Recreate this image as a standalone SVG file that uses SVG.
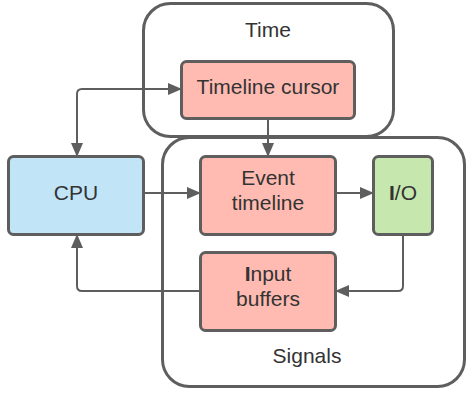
<svg xmlns="http://www.w3.org/2000/svg" width="466" height="394" viewBox="0 0 466 394">
  <style>
    .box { stroke: #5e5e5e; stroke-width: 3; }
    .frame { fill: none; stroke: #5e5e5e; stroke-width: 3; }
    .red { fill: #ffbbb1; }
    .blue { fill: #c1e4f7; }
    .green { fill: #c6e7ae; }
    .label { font-family: "Liberation Sans", Arial, sans-serif; font-size: 21px; fill: #333333; text-anchor: middle; }
    .wire { fill: none; stroke: #5e5e5e; stroke-width: 2; }
  </style>
  <defs>
    <marker id="arrow" viewBox="0 0 14 12" refX="13" refY="6" markerWidth="14" markerHeight="12" markerUnits="userSpaceOnUse" orient="auto-start-reverse">
      <path d="M0,0 L14,6 L0,12 Z" fill="#5e5e5e"/>
    </marker>
  </defs>

  <!-- container frames -->
  <g id="time">
    <rect class="frame" x="143.5" y="3.5" width="250" height="133" rx="27"/>
    <text class="label" x="268" y="37">Time</text>
  </g>
  <g id="signals">
    <rect class="frame" x="162.5" y="137.5" width="302" height="249" rx="27"/>
    <text class="label" x="307" y="363">Signals</text>
  </g>

  <!-- connectors -->
  <g id="connectors">
    <path class="wire" d="M77,156 V94 Q77,89 82,89 H181" marker-start="url(#arrow)" marker-end="url(#arrow)"/>
    <path class="wire" d="M268,118 V156" marker-end="url(#arrow)"/>
    <path class="wire" d="M143,193 H200" marker-end="url(#arrow)"/>
    <path class="wire" d="M335,193 H373" marker-end="url(#arrow)"/>
    <path class="wire" d="M403,234 V286 Q403,291 398,291 H336" marker-end="url(#arrow)"/>
    <path class="wire" d="M200,291 H82 Q77,291 77,286 V235" marker-end="url(#arrow)"/>
  </g>

  <!-- nodes -->
  <g id="timeline-cursor">
    <rect class="box red" x="181.5" y="61.5" width="173" height="57" rx="5"/>
    <text class="label" x="268" y="94">Timeline cursor</text>
  </g>
  <g id="cpu">
    <rect class="box blue" x="8.5" y="156.5" width="135" height="78" rx="5"/>
    <text class="label" x="76" y="200">CPU</text>
  </g>
  <g id="event-timeline">
    <rect class="box red" x="200.5" y="156.5" width="135" height="78" rx="5"/>
    <text class="label" x="268" y="185">Event</text>
    <text class="label" x="268" y="210">timeline</text>
  </g>
  <g id="io">
    <rect class="box green" x="373.5" y="156.5" width="59" height="78" rx="5"/>
    <text class="label" x="403" y="200"><tspan font-weight="bold">I</tspan>/O</text>
  </g>
  <g id="input-buffers">
    <rect class="box red" x="200.5" y="252.5" width="135" height="78" rx="5"/>
    <text class="label" x="268" y="281"><tspan font-weight="bold">I</tspan>nput</text>
    <text class="label" x="268" y="306">buffers</text>
  </g>
</svg>
